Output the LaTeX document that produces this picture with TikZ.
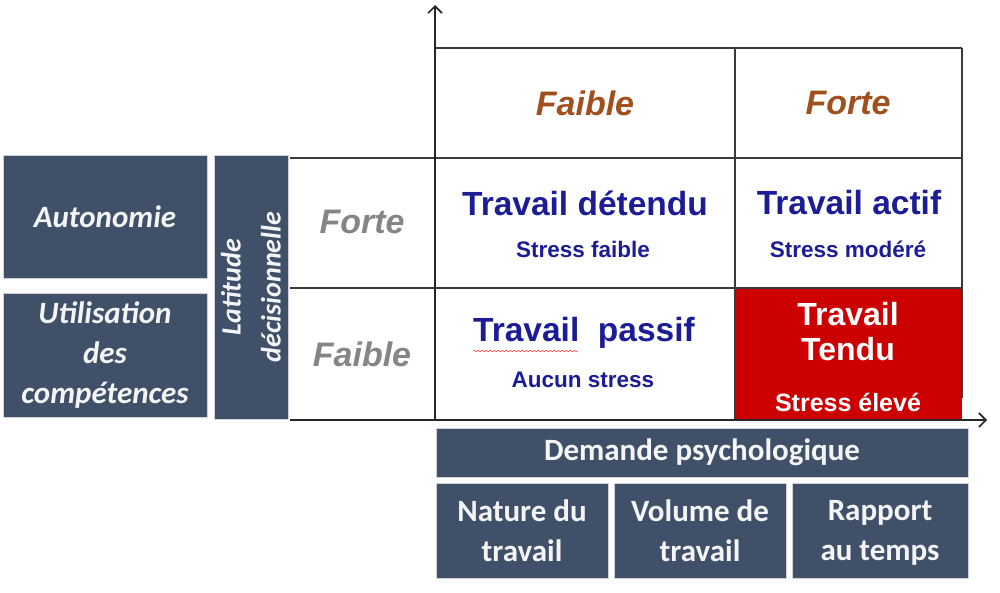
\documentclass[tikz,border=0pt]{standalone}
\usepackage{fontspec}
\setmainfont{Liberation Sans}
\newfontfamily\calfont{Carlito}
\usetikzlibrary{arrows.meta,decorations.pathmorphing}
\definecolor{slate}{HTML}{3F5068}
\definecolor{brownh}{HTML}{A0501E}
\definecolor{navyt}{HTML}{1C1C96}
\definecolor{redc}{HTML}{CC0000}
\definecolor{grayl}{HTML}{858585}
\definecolor{gridc}{HTML}{3A3A3A}
\begin{document}
\begin{tikzpicture}[x=1pt,y=-1pt,
  panel/.style={fill=slate, draw=white!75!slate, line width=0.8pt, text=white!94!slate,
    font=\calfont\bfseries\fontsize{31}{40}\selectfont, align=center, inner sep=0pt},
  gridline/.style={draw=gridc, line width=1.6pt},
  axisline/.style={draw=black!85, line width=2pt, -{Straight Barb[length=7pt,width=14pt,line width=1.6pt]}},
  colhead/.style={text=brownh, font=\bfseries\itshape\fontsize{34}{38}\selectfont},
  rowhead/.style={text=grayl, font=\bfseries\itshape\fontsize{34}{38}\selectfont},
  celltitle/.style={text=navyt, font=\bfseries\fontsize{33.5}{38}\selectfont},
  cellsub/.style={text=navyt, font=\bfseries\fontsize{22.5}{26}\selectfont},
  redtitle/.style={text=white, font=\bfseries\fontsize{32}{37}\selectfont, align=center},
  redsub/.style={text=white, font=\bfseries\fontsize{25}{28}\selectfont}
]
\useasboundingbox (0,0) rectangle (1000,592);

% red cell
\fill[redc] (735,288) rectangle (962,420);

% grid
\draw[gridline] (435,48) -- (962,48);
\draw[gridline] (290,158) -- (962,158);
\draw[gridline] (290,288) -- (962,288);
\draw[gridline] (735,48) -- (735,420);
\draw[gridline] (962,48) -- (962,398);

% axes
\coordinate (origin) at (435,420);
\coordinate (ytip) at (435,5);
\coordinate (xstart) at (290,420);
\coordinate (xtip) at (987,420);
\draw[axisline] (origin) -- (ytip);
\draw[axisline] (xstart) -- (xtip);

% left panels
\node[panel, minimum width=204, minimum height=123] (auto) at (105,216.5) {\itshape Autonomie};
\node[panel, minimum width=204, minimum height=124] (util) at (105,355) {\itshape Utilisation\\\itshape des\\\itshape compétences};
\node[panel, rotate=90, minimum width=264, minimum height=74, font=\calfont\bfseries\itshape\fontsize{28}{40}\selectfont] (lat) at (251,287) {Latitude\\décisionnelle};

% bottom panels
\node[panel, minimum width=532, minimum height=49] (dem) at (702,452.5) {Demande psychologique};
\node[panel, minimum width=172, minimum height=95] (nat) at (522,530.5) {Nature du\\travail};
\node[panel, minimum width=172, minimum height=95] (vol) at (700,530.5) {Volume de\\travail};
\node[panel, minimum width=176, minimum height=95, text depth=0pt] (rap) at (880,530.5) {Rapport\\au temps};

% headers
\node[colhead] (cfaible) at (585,103) {Faible};
\node[colhead] (cforte) at (848,103) {Forte};
\node[rowhead] (rforte) at (362,222) {Forte};
\node[rowhead] (rfaible) at (362,354) {Faible};

% cells
\node[celltitle] (detendu) at (585,203) {Travail détendu};
\node[cellsub] (sfaible) at (583,249) {Stress faible};
\node[celltitle] (actif) at (849,203) {Travail actif};
\node[cellsub] (smodere) at (848,249) {Stress modéré};
\node[celltitle] (passif) at (584,333) {Travail\ \ passif};
\node[cellsub] (aucun) at (583,380) {Aucun stress};
\node[redtitle] (tendu) at (848,332) {Travail\\[-2pt]Tendu};
\node[redsub] (eleve) at (848,402) {Stress élevé};

% spell-check squiggle under "Travail"
\coordinate (sq1) at (473,351);
\coordinate (sq2) at (578,351);
\draw[red!70, line width=0.6pt, decorate, decoration={snake, amplitude=0.8pt, segment length=4pt}] (sq1) -- (sq2);
\end{tikzpicture}
\end{document}
